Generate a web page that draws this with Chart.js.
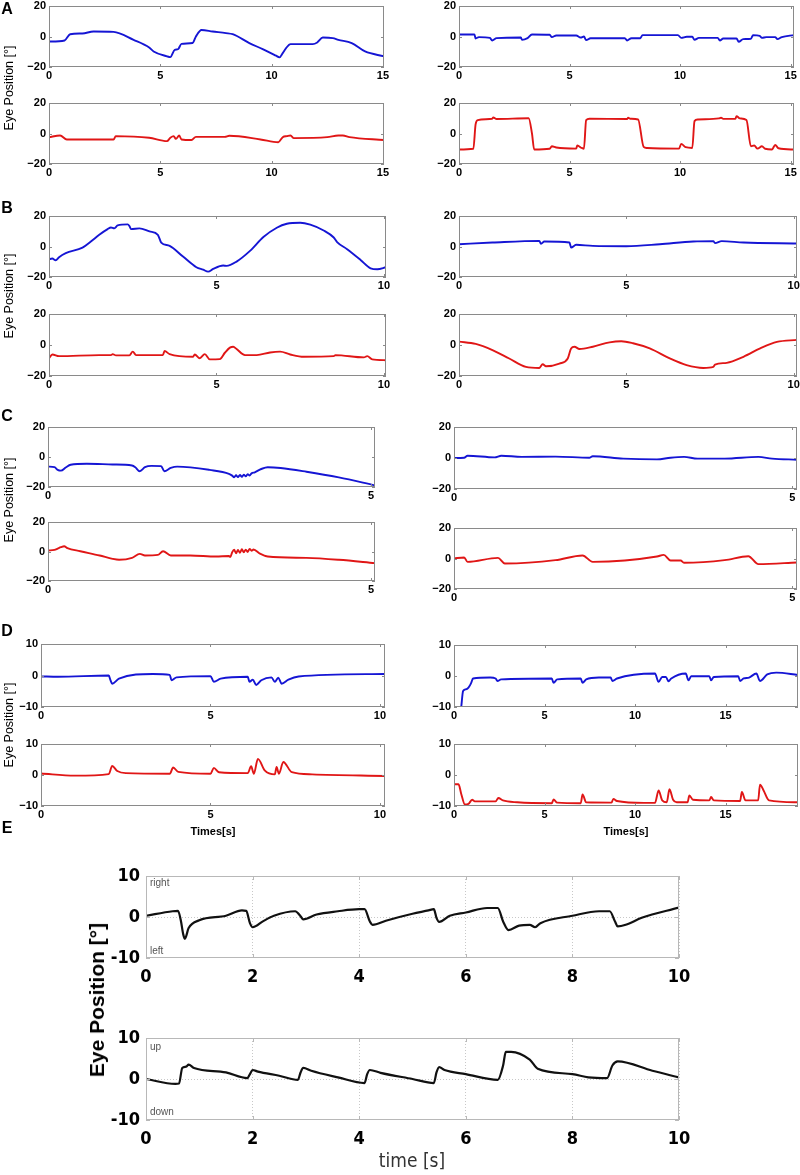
<!DOCTYPE html>
<html><head><meta charset="utf-8">
<script src="https://cdn.jsdelivr.net/npm/chart.js@4/dist/chart.umd.min.js"></script>
<style>
html,body{margin:0;padding:0;background:#fff;overflow:hidden;width:800px;height:1175px;}
canvas{position:absolute;}
.t{position:absolute;font-family:'Liberation Sans',Arial,sans-serif;color:#000;white-space:nowrap;}
.rot{transform:translate(-50%,-50%) rotate(-90deg);}
.c{transform:translate(-50%,-50%);}
</style></head><body>
<script>
// ---------- DATA (time [s], eye position [deg]) ----------
const ticks20 = [-20, 0, 20];
const ticks10 = [-10, 0, 10];
const xTicks15 = [0, 5, 10, 15];
const xTicks10 = [0, 5, 10];
const xTicks5 = [0, 5];
const xTicks19 = [0, 5, 10, 15];
const xTicksE = [0, 2, 4, 6, 8, 10];

const A_left_h = [[0,-3.3],[0.7,-2.6],[0.95,1.5],[1.5,2],[2.0,3.3],[2.9,3],[3.8,-2.2],[4.5,-7.2],[4.7,-9.8],[5.3,-13],[5.45,-13.5],[5.65,-8.7],[5.8,-8.3],[5.95,-4.8],[6.45,-4.3],[6.6,0],[6.85,4.3],[7.35,3.3],[7.95,2.2],[8.25,1.5],[9.0,-4.3],[9.6,-8.3],[10.2,-12.6],[10.35,-13.7],[10.5,-10.9],[10.65,-7.6],[10.85,-5],[11.85,-5],[12.05,-3.9],[12.3,-0.7],[12.75,-1.1],[13.0,-2.2],[13.6,-4.3],[14.2,-9.8],[15.05,-13]];
const A_left_v = [[0,-2.4],[0.5,-1.3],[0.8,-3.9],[2.9,-3.9],[3.0,-1.7],[4.5,-2.8],[5.3,-5],[5.45,-2.8],[5.6,-1.7],[5.7,-3.5],[5.85,-1.3],[5.95,-3.9],[6.4,-4.3],[6.6,-2.2],[7.9,-2.2],[8.1,-1.5],[9.5,-3.9],[10.3,-5.7],[10.5,-2.4],[10.7,-1.7],[10.85,-1.3],[11.0,-3],[12.5,-2.4],[13.0,-1.3],[13.2,-1.3],[13.5,-2.4],[15.05,-4.3]];
const A_right_h = [[0,1.3],[0.7,1.3],[0.75,-1.3],[0.9,-0.4],[1.4,-0.9],[1.5,-2.6],[1.7,-1.1],[2.8,-0.7],[2.85,-2.2],[3.1,-1.1],[3.3,1.3],[4.1,1.1],[4.2,-0.4],[4.4,0.7],[5.3,0.7],[5.5,-0.7],[5.65,0],[5.75,-2.4],[5.95,-1.1],[7.5,-1.1],[7.6,-2.6],[7.8,-1.1],[8.2,-1.1],[8.3,0.9],[9.9,0.9],[10.05,-0.9],[10.3,-0.2],[10.55,-0.2],[10.65,-2.2],[10.85,-0.9],[11.7,-0.9],[11.8,-2.6],[11.95,-1.3],[12.55,-1.3],[12.65,-3.5],[12.85,-1.7],[13.2,-1.5],[13.3,0.9],[13.6,0.4],[13.7,-0.9],[13.9,-0.4],[14.3,-0.4],[14.4,-1.7],[14.6,-0.4],[15.15,0.9]];
const A_right_v = [[0,-10.5],[0.65,-10],[0.75,6],[0.85,8.8],[1.5,9.7],[1.55,10.5],[1.7,9.5],[3.15,10],[3.3,0],[3.4,-10.5],[4.1,-10],[4.2,-8.4],[4.4,-9.2],[5.3,-9.9],[5.35,-7.9],[5.55,-9.5],[5.65,-10],[5.75,8.8],[5.9,9.7],[7.6,9.5],[7.65,10.3],[7.75,9.7],[8.1,9.2],[8.35,-8.8],[8.5,-9.5],[9.95,-9.9],[10.05,-6.8],[10.25,-9],[10.55,-9.5],[10.65,8.1],[10.8,9.2],[11.75,9.9],[11.85,10.3],[11.95,9.6],[12.5,9.6],[12.55,11.4],[12.7,9.9],[13.0,8.8],[13.2,-8.4],[13.35,-7.9],[13.5,-9.9],[13.7,-8.4],[13.85,-10],[14.15,-10.5],[14.3,-7.5],[14.45,-9.7],[15.15,-10.5]];

const B_left_h = [[0,-8.4],[0.1,-7.9],[0.2,-9],[0.3,-7],[0.5,-4.4],[1.0,-0.7],[1.25,3.3],[1.5,7.7],[1.75,11.4],[1.85,12.5],[1.95,11.9],[2.05,13.8],[2.35,14.5],[2.4,13.4],[2.45,11.4],[2.7,11.9],[3.0,9.9],[3.25,7.7],[3.35,2.6],[3.6,0.4],[4.0,-6.6],[4.4,-13.6],[4.6,-15.2],[4.75,-16.5],[4.9,-14.7],[5.2,-12.5],[5.3,-12.7],[5.6,-9.9],[6.0,-2.9],[6.4,6.2],[6.8,12.3],[7.1,14.9],[7.5,15.6],[7.8,14.3],[8.2,10.5],[8.5,5.9],[8.6,2.9],[8.9,-1.8],[9.3,-8.8],[9.6,-14.3],[9.8,-14.9],[10.06,-13.6]];
const B_left_v = [[0,-8.5],[0.1,-6.1],[0.3,-7.2],[1.5,-6.5],[1.85,-6.5],[1.9,-5.9],[2.0,-6.7],[2.4,-6.7],[2.5,-4.3],[2.6,-6.5],[3.4,-6.5],[3.45,-3.9],[3.6,-5.9],[4.3,-7.6],[4.35,-6.1],[4.5,-8.5],[4.65,-5.9],[4.8,-9.3],[5.1,-9.1],[5.25,-5],[5.4,-1.7],[5.5,-1.1],[5.6,-2.6],[5.85,-6.5],[6.2,-6.5],[6.6,-4.8],[6.9,-4.3],[7.2,-6.1],[7.6,-7.6],[8.5,-7.2],[8.55,-6.5],[9.4,-8],[9.5,-7.2],[9.65,-9.3],[10.06,-9.8]];
const B_right_h = [[0,1.5],[1.0,2.6],[2.4,3.7],[2.45,1.8],[2.55,3.3],[3.3,2.6],[3.35,-0.7],[3.5,1.1],[4.0,0.4],[5.0,0.2],[6.0,1.5],[7.0,3.3],[7.6,3.5],[7.65,2.2],[7.85,3.5],[8.5,2.6],[10.1,2]];
const B_right_v = [[0,2.2],[0.5,0.7],[1.0,-3.3],[1.5,-8.7],[2.0,-14.1],[2.4,-14.8],[2.5,-12.4],[2.6,-13.7],[3.0,-12],[3.25,-8.7],[3.35,-2.2],[3.45,-1.1],[3.6,-2.6],[4.0,-1.1],[4.5,1.7],[4.85,2.4],[5.2,1.1],[5.7,-2.2],[6.3,-8.7],[6.8,-13],[7.3,-14.8],[7.6,-14.1],[7.65,-12.6],[8.0,-11.5],[8.5,-7.6],[9.0,-2.2],[9.5,2],[10.1,3.3]];

const C_left_h = [[0,-6.4],[0.1,-6.8],[0.15,-8.6],[0.2,-9.1],[0.28,-6.8],[0.35,-5.2],[0.6,-4.5],[1.0,-5],[1.3,-5.7],[1.35,-6.8],[1.42,-9.5],[1.5,-6.8],[1.6,-5.9],[1.75,-6.1],[1.8,-9.5],[1.9,-7.3],[2.0,-6.4],[2.5,-8.6],[2.8,-11.2],[2.85,-12.4],[2.88,-13.5],[2.91,-12.2],[2.94,-13.4],[2.97,-12],[3.0,-13.2],[3.03,-11.8],[3.06,-12.9],[3.09,-11.5],[3.12,-12.3],[3.15,-10.9],[3.2,-10.2],[3.3,-8],[3.4,-6.8],[3.6,-7.3],[4.0,-9.8],[4.5,-13.6],[5.06,-18.9]];
const C_left_v = [[0,0.7],[0.1,1.1],[0.15,2],[0.2,2.9],[0.25,3.6],[0.3,2.3],[0.5,0.2],[0.8,-2.7],[1.0,-5],[1.1,-5.6],[1.3,-4.3],[1.42,-1.6],[1.5,-2.7],[1.7,-2.3],[1.78,0.2],[1.9,-2.7],[2.2,-2.7],[2.6,-3.4],[2.8,-3.0],[2.82,-3.8],[2.85,-0.5],[2.88,1.2],[2.91,-1.2],[2.94,1.0],[2.97,-0.8],[3.0,1.5],[3.03,-0.5],[3.06,1.3],[3.09,-0.3],[3.12,1.8],[3.15,0.5],[3.18,1.4],[3.28,-1.5],[3.4,-3.4],[4.0,-4.3],[4.5,-5.6],[5.06,-7.9]];
const C_right_h = [[0,0],[0.15,0.2],[0.2,1.5],[0.6,0.4],[0.7,1.5],[1.0,0.7],[1.5,0.9],[2.0,0.2],[2.05,1.1],[2.5,-0.4],[3.0,-0.9],[3.2,0.2],[3.4,0.7],[3.6,-0.4],[4.0,-0.4],[4.5,0.7],[4.7,-0.4],[5.07,-1.1]];
const C_right_v = [[0,0],[0.15,0.7],[0.2,-2.2],[0.65,0.4],[0.75,-3.3],[1.5,-1.1],[1.9,2],[2.05,-2.2],[3.0,1.3],[3.1,2.4],[3.2,-1.3],[3.35,-1.3],[3.4,-2.8],[4.0,-1.1],[4.35,1.5],[4.5,-3.7],[5.07,-2.6]];

const D_left_h = [[0,-0.3],[0.5,-0.4],[2.0,0],[2.05,-1.5],[2.1,-2.6],[2.3,-1],[3.3,0.5],[3.8,0.2],[3.85,-1.5],[4.0,-0.6],[5.0,-0.2],[5.1,-2],[5.3,-1],[6.1,-0.4],[6.15,-2],[6.25,-1.3],[6.35,-3],[6.5,-1.5],[6.8,-0.6],[6.9,-2],[7.0,-0.7],[7.1,-2.6],[7.3,-1.3],[7.6,-0.3],[10.15,0.5]];
const D_left_v = [[0,0.5],[1.0,-0.2],[2.0,0.3],[2.1,2.9],[2.25,1.3],[2.5,0.6],[3.8,0.4],[3.9,2.4],[4.05,1],[5.0,0.4],[5.1,2.3],[5.25,0.9],[6.1,0.6],[6.2,2.8],[6.28,0.4],[6.4,5.2],[6.6,1.5],[6.9,0.2],[6.95,2.6],[7.02,0.4],[7.15,4.2],[7.4,0.9],[8.0,0.2],[10.15,-0.3]];
const D_right_h = [[0.4,-10],[0.5,-4.9],[0.6,-4.4],[0.75,-4],[0.85,-3.3],[0.95,-2.2],[1.05,-0.8],[2.0,-0.5],[2.3,-0.8],[2.4,-1.6],[2.6,-1.1],[5.4,-0.8],[5.5,-2.2],[5.7,-1.1],[7.0,-0.8],[7.1,-2.2],[7.3,-1.1],[8.0,-0.5],[8.65,-0.5],[8.75,-1.6],[9.0,-0.8],[11.1,0.8],[11.3,-1.9],[11.5,-0.3],[11.7,-0.3],[11.85,-1.7],[12.0,-0.8],[12.8,0.8],[12.95,-1.4],[13.1,-0.1],[14.1,-0.1],[14.2,-1.4],[14.35,-0.3],[15.7,-0.1],[15.8,-1.6],[16.0,-0.8],[16.3,-0.5],[16.7,0.8],[16.9,-1.6],[17.3,0.5],[17.8,1.1],[19.0,0.3]];
const D_right_v = [[0,-3],[0.25,-3],[0.4,-6.1],[0.6,-9.5],[0.8,-9.3],[1.0,-8],[1.15,-8.5],[2.3,-8.5],[2.45,-7.4],[2.7,-8.2],[3.5,-8.8],[5.4,-9.1],[5.5,-7.9],[5.7,-8.9],[7.0,-9.1],[7.1,-6.3],[7.3,-8.8],[8.7,-8.9],[8.8,-7.7],[9.0,-8.4],[10.5,-9],[11.1,-9],[11.3,-5],[11.5,-8.2],[11.75,-8.8],[11.9,-4.6],[12.1,-8],[12.3,-8.8],[12.9,-8.8],[13.0,-6.6],[13.2,-8],[14.1,-8.2],[14.2,-7.1],[14.35,-8.2],[15.8,-8.4],[15.9,-5.5],[16.1,-8.2],[16.8,-8.2],[16.9,-3.1],[17.1,-5],[17.4,-8.2],[19.0,-8.8]];

const E_horizontal = [[0,0.3],[0.5,1.4],[0.6,1.5],[0.65,-0.6],[0.7,-4.3],[0.73,-5.3],[0.8,-2.7],[1.0,-0.8],[1.5,0.3],[1.8,1.6],[1.88,1.5],[1.95,-1.5],[2.0,-2.5],[2.2,-1],[2.4,0.3],[2.8,1.4],[2.9,0.2],[2.95,-0.6],[3.2,0.6],[3.6,1.4],[4.0,1.9],[4.1,1.9],[4.2,-1.1],[4.25,-1.9],[4.5,-0.9],[5.0,0.8],[5.3,1.6],[5.4,1.9],[5.45,-0.2],[5.5,-1.2],[5.7,0.3],[6.0,1.1],[6.4,2.2],[6.6,2.2],[6.7,-1.1],[6.8,-3.2],[7.0,-2.1],[7.2,-1.9],[7.3,-2.5],[7.4,-1.5],[8.0,0.3],[8.5,1.4],[8.7,1.4],[8.8,-1.1],[8.85,-2.3],[9.0,-1.9],[9.3,-0.2],[10,2.3]];
const E_vertical = [[0,0],[0.55,-1.2],[0.62,-1.1],[0.68,2.7],[0.75,3],[0.8,3.5],[0.9,2.7],[1.5,1.6],[1.9,0.2],[1.95,1.2],[2.0,2.2],[2.1,1.8],[2.5,0.8],[2.85,-0.2],[2.9,1.6],[2.95,2.7],[3.1,2],[3.6,0.4],[4.1,-1],[4.15,1.2],[4.2,2.2],[4.4,1.5],[5.0,0],[5.4,-1],[5.45,1.6],[5.5,2.9],[5.6,2.2],[6.0,1.2],[6.6,-0.2],[6.7,3.3],[6.75,6.6],[6.85,6.6],[7.2,4.7],[7.35,2.5],[8.0,1.2],[8.3,0.4],[8.65,0.2],[8.75,3.3],[8.85,4.3],[9.5,2],[10,0.4]];

// ---------- rendering ----------
const BLUE = '#1515d4', RED = '#e01616', BLACK = '#111';
const smallFont = {family:"'Liberation Sans', Arial, sans-serif", size:11, weight:'bold'};
const eFont = {family:"'Liberation Sans Narrow','DejaVu Sans Condensed','Liberation Sans',sans-serif", size:18, weight:'bold'};

const framePlugin = {
  id:'frame',
  afterDraw(chart){
    const o = chart.options.plugins.frame; const ca = chart.chartArea; const ctx = chart.ctx;
    ctx.save();
    ctx.strokeStyle = o.color; ctx.lineWidth = 1;
    ctx.strokeRect(Math.round(ca.left)+0.5, Math.round(ca.top)+0.5, Math.round(ca.right-ca.left)-1, Math.round(ca.bottom-ca.top)-1);
    const tl = o.tick;
    ctx.beginPath();
    chart.scales.x.ticks.forEach(t=>{
      const px = Math.round(chart.scales.x.getPixelForValue(t.value))+0.5;
      ctx.moveTo(px, ca.bottom); ctx.lineTo(px, ca.bottom-tl);
      ctx.moveTo(px, ca.top); ctx.lineTo(px, ca.top+tl);
    });
    chart.scales.y.ticks.forEach(t=>{
      const py = Math.round(chart.scales.y.getPixelForValue(t.value))+0.5;
      ctx.moveTo(ca.left, py); ctx.lineTo(ca.left+tl, py);
      ctx.moveTo(ca.right, py); ctx.lineTo(ca.right-tl, py);
    });
    ctx.stroke();
    ctx.restore();
  }
};

const YW = 46, XH = 30, PT = 10, PR = 14;
function plot(g, series, color, yTicks, xMax, xTicks, big){
  const [l,t,r,b] = g;
  const cv = document.createElement('canvas');
  const w = (r-l) + YW + PR, h = (b-t) + PT + XH;
  cv.width = w; cv.height = h;
  cv.style.left = (l-YW)+'px'; cv.style.top = (t-PT)+'px';
  cv.style.width = w+'px'; cv.style.height = h+'px';
  document.body.appendChild(cv);
  const fix = (vert)=> (s)=>{ if(vert) s.width = YW; else s.height = XH; s.paddingLeft=0; s.paddingRight=0; s.paddingTop=0; s.paddingBottom=0; };
  new Chart(cv, {
    type:'line',
    data:{datasets:[{data:series.map(([x,y])=>({x,y})), borderColor:color, borderWidth: big?2.2:1.9, pointRadius:0, cubicInterpolationMode:'monotone', fill:false, borderJoinStyle:'round', borderCapStyle:'round'}]},
    options:{
      animation:false, responsive:false, devicePixelRatio:1,
      layout:{padding:{top:PT,right:PR,left:0,bottom:0}},
      plugins:{legend:{display:false}, tooltip:{enabled:false}, frame:{color: big?'#b8b8b8':'#8a8a8a', tick: big?4:3}},
      scales:{
        x:{type:'linear', min:0, max:xMax, afterBuildTicks:s=>{s.ticks = xTicks.map(v=>({value:v}));}, afterFit:fix(false),
           grid: big?{display:true, drawTicks:false, color:'#c8c8c8', lineWidth:1}:{display:false, drawTicks:false},
           border:{display:false, dash: big?[1,2]:[]},
           ticks:{autoSkip:false, maxRotation:0, padding: big?9:2, color:'#000', font: big?eFont:smallFont, callback:v=>String(v)}},
        y:{type:'linear', min:yTicks[0], max:yTicks[yTicks.length-1], afterBuildTicks:s=>{s.ticks = yTicks.map(v=>({value:v}));}, afterFit:fix(true),
           grid: big?{display:true, drawTicks:false, color:(c)=> c.tick && c.tick.value===0 ? '#c8c8c8' : 'rgba(0,0,0,0)', lineWidth:1}:{display:false, drawTicks:false},
           border:{display:false, dash: big?[1,2]:[]},
           ticks:{padding: big?6:3, color:'#000', font: big?eFont:smallFont, callback:v=> big? String(v) : String(v).replace('-','\u2212')}}
      }
    },
    plugins:[framePlugin]
  });
}

// geometry [left, top, right, bottom]
plot([49,6,384,67], A_left_h, BLUE, ticks20, 15.05, xTicks15);
plot([49,103,384,164], A_left_v, RED, ticks20, 15.05, xTicks15);
plot([459,6,794,67], A_right_h, BLUE, ticks20, 15.15, xTicks15);
plot([459,103,794,164], A_right_v, RED, ticks20, 15.15, xTicks15);
plot([49,216,386,277], B_left_h, BLUE, ticks20, 10.06, xTicks10);
plot([49,314,386,376], B_left_v, RED, ticks20, 10.06, xTicks10);
plot([459,216,797,277], B_right_h, BLUE, ticks20, 10.1, xTicks10);
plot([459,314,797,376], B_right_v, RED, ticks20, 10.1, xTicks10);
plot([48,427,375,487], C_left_h, BLUE, ticks20, 5.06, xTicks5);
plot([48,522,375,581], C_left_v, RED, ticks20, 5.06, xTicks5);
plot([454,427,797,489], C_right_h, BLUE, ticks20, 5.07, xTicks5);
plot([454,528,797,589], C_right_v, RED, ticks20, 5.07, xTicks5);
plot([41,644,385,707], D_left_h, BLUE, ticks10, 10.15, xTicks10);
plot([41,744,385,806], D_left_v, RED, ticks10, 10.15, xTicks10);
plot([454,645,798,707], D_right_h, BLUE, ticks10, 19.0, xTicks19);
plot([454,744,798,806], D_right_v, RED, ticks10, 19.0, xTicks19);
plot([146,876,679,958], E_horizontal, BLACK, ticks10, 10, xTicksE, true);
plot([146,1038,679,1120], E_vertical, BLACK, ticks10, 10, xTicksE, true);

// ---------- text ----------
function txt(s, x, y, css, cls){
  const d = document.createElement('div'); d.className = 't ' + (cls||'c'); d.textContent = s;
  d.style.left = x+'px'; d.style.top = y+'px'; Object.assign(d.style, css||{});
  document.body.appendChild(d);
}
const letter = {fontWeight:'bold', fontSize:'16px'};
txt('A', 7, 9, letter); txt('B', 7, 208, letter); txt('C', 7, 416, letter); txt('D', 7, 631, letter); txt('E', 7, 828, letter);
const yl = {fontSize:'12.5px'};
txt('Eye Position [°]', 9, 88, yl, 'rot'); txt('Eye Position [°]', 9, 296, yl, 'rot');
txt('Eye Position [°]', 9, 500, yl, 'rot'); txt('Eye Position [°]', 9, 725, yl, 'rot');
txt('Times[s]', 213, 831, {fontWeight:'bold', fontSize:'11px'});
txt('Times[s]', 626, 831, {fontWeight:'bold', fontSize:'11px'});
txt('Eye Position [°]', 97, 1000, {fontWeight:'bold', fontSize:'21px'}, 'rot');
txt('time [s]', 412, 1160, {fontSize:'19px', color:'#333', fontFamily:"'Liberation Sans Narrow','DejaVu Sans Condensed',sans-serif"});
const small = {fontSize:'10px', color:'#555', transform:'translate(0,-50%)'};
txt('right', 150, 882, small, ' '); txt('left', 150, 950, small, ' ');
txt('up', 150, 1046, small, ' '); txt('down', 150, 1111, small, ' ');
</script>
</body></html>
